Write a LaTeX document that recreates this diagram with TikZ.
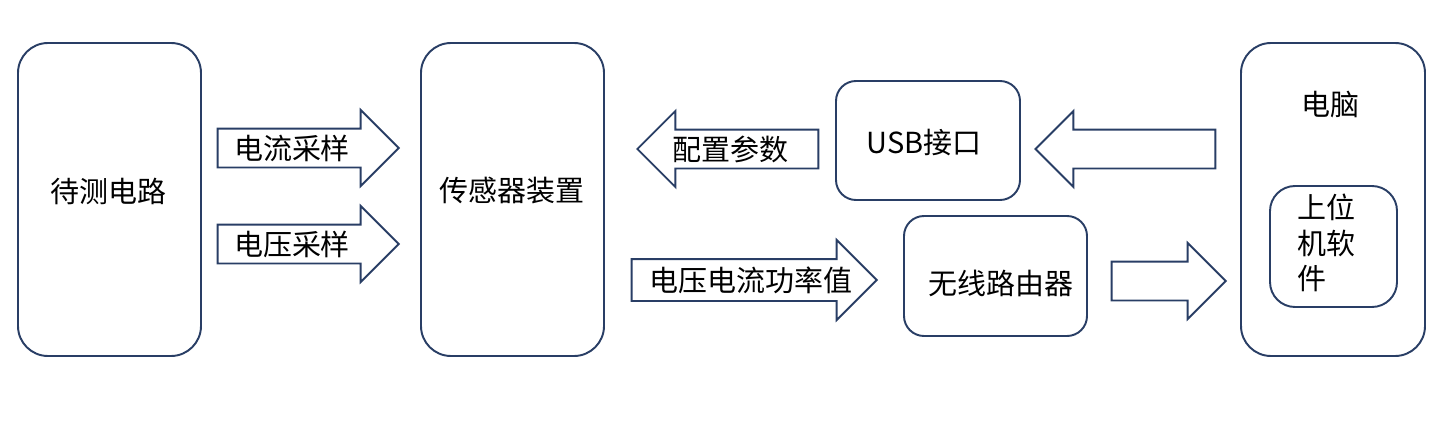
\documentclass[tikz,border=0pt]{standalone}
\usepackage{fontspec}
\setmainfont{Noto Sans CJK SC}
\usetikzlibrary{shapes.arrows}
\definecolor{navy}{RGB}{41,62,101}
\tikzset{
  blk/.style={draw=navy, line width=1.1pt, rounded corners=0.6cm, minimum width=3.66cm, minimum height=6.26cm},
  smallblk/.style={draw=navy, line width=1.1pt, rounded corners=0.4cm, minimum width=3.66cm, minimum height=2.4cm},
  fatarrow/.style={single arrow, draw=navy, line width=1.1pt, inner xsep=0pt, inner ysep=0.37cm, single arrow head extend=0.37cm, single arrow head indent=0pt, anchor=tip}
}
\begin{document}
\begin{tikzpicture}[font=\fontsize{16.5pt}{20pt}\selectfont]
          \useasboundingbox (0,0) rectangle (28.96,-8.46);
          \node[blk] (dut) at (2.19,-3.99) {};
          \node[blk] (sensor) at (10.25,-3.99) {};
          \node[smallblk, minimum width=3.68cm, minimum height=2.38cm] (usb) at (18.56,-2.81) {};
          \node[smallblk] (router) at (19.91,-5.52) {};
          \node[blk, minimum width=3.68cm] (pc) at (26.66,-3.99) {};
          \node[smallblk, rounded corners=0.5cm, minimum width=2.54cm, minimum height=2.42cm] (sw) at (26.67,-4.93) {};
          %
          \node (dutlbl) at (2.17,-3.82) {待测电路};
          \node (sensorlbl) at (10.24,-3.82) {传感器装置};
          \node (usblbl) at (18.48,-2.86) {USB接口};
          \node (routerlbl) at (20.02,-5.66) {无线路由器};
          \node (pclbl) at (26.6,-2.1) {电脑};
          \node[align=left] (swlbl) at (26.52,-4.86) {上位\\机软\\件};
          %
          \node[fatarrow, minimum height=3.62cm] (cur) at (8.0,-2.96) {};
          \node[fatarrow, minimum height=3.62cm] (volt) at (8.0,-4.88) {};
          \node[fatarrow, shape border rotate=180, minimum height=3.62cm] (cfg) at (12.72,-2.98) {};
          \node[fatarrow, minimum height=4.9cm, inner ysep=0.4cm, single arrow head extend=0.38cm] (pwr) at (17.56,-5.6) {};
          \node[fatarrow, shape border rotate=180, minimum height=3.6cm] (usbin) at (20.68,-2.98) {};
          \node[fatarrow, minimum height=2.28cm] (topc) at (24.54,-5.62) {};
          %
          \node (curlbl) at (5.84,-2.96) {电流采样};
          \node (voltlbl) at (5.84,-4.88) {电压采样};
          \node (cfglbl) at (14.6,-2.98) {配置参数};
          \node (pwrlbl) at (15.02,-5.6) {电压电流功率值};
        \end{tikzpicture}
\end{document}
